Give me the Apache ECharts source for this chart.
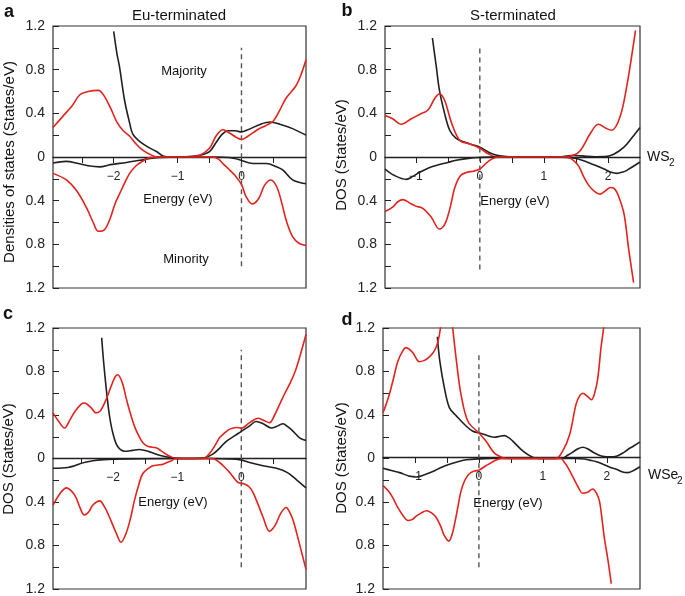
<!DOCTYPE html>
<html>
<head>
<meta charset="utf-8">
<script src="https://cdn.jsdelivr.net/npm/echarts@6/dist/echarts.min.js"></script>
<style>html,body{margin:0;padding:0;background:#fff}#c{width:685px;height:596px}</style>
</head>
<body>
<div id="c"></div>
<script>
// ---------- data (energy eV, DOS States/eV; minority stored as magnitudes) ----------
const panelTitles = ['Eu-terminated', 'S-terminated'];
const panelLetters = ['a', 'b', 'c', 'd'];
const xRanges = [[-2.95, 1.01], [-1.48, 2.5], [-2.94, 1.01], [-1.5, 2.52]];
const xTickValues = [[-2.5, -2, -1.5, -1, -0.5, 0, 0.5], [-1, -0.5, 0, 0.5, 1, 1.5, 2], [-2.5, -2, -1.5, -1, -0.5, 0, 0.5], [-1, -0.5, 0, 0.5, 1, 1.5, 2]];
const xLabelValues = [[-2, -1, 0], [-1, 0, 1, 2], [-2, -1, 0], [-1, 0, 1, 2]];
const fermiTop = [1.0, 1.0, 1.0, 0.96];
const fermiBottom = [-1.0, -1.03, -1.0, -1.0];

const aMajBlack = [[-2.0,1.15],[-1.95,0.95],[-1.91,0.83],[-1.83,0.52],[-1.75,0.31],[-1.70,0.21],[-1.59,0.14],[-1.46,0.09],[-1.33,0.05],[-1.23,0.01],[-1.1,0],[-0.8,0.003],[-0.66,0.015],[-0.5,0.05],[-0.4,0.13],[-0.3,0.21],[-0.2,0.24],[-0.1,0.24],[0,0.23],[0.1,0.25],[0.3,0.3],[0.45,0.32],[0.6,0.3],[0.8,0.26],[1.01,0.2]];
const aMajRed = [[-2.95,0.27],[-2.8,0.37],[-2.65,0.47],[-2.53,0.57],[-2.4,0.6],[-2.24,0.61],[-2.15,0.56],[-2.05,0.45],[-1.95,0.32],[-1.85,0.24],[-1.75,0.19],[-1.65,0.12],[-1.54,0.06],[-1.4,0.015],[-1.3,0],[-0.8,0.003],[-0.66,0.015],[-0.5,0.08],[-0.4,0.19],[-0.29,0.25],[-0.19,0.22],[-0.08,0.18],[0,0.16],[0.1,0.19],[0.25,0.25],[0.39,0.29],[0.5,0.33],[0.6,0.43],[0.7,0.54],[0.85,0.65],[0.93,0.75],[1.01,0.89]];
const aMinBlack = [[-2.95,0.055],[-2.75,0.04],[-2.55,0.06],[-2.4,0.08],[-2.22,0.09],[-2.05,0.07],[-1.8,0.05],[-1.59,0.03],[-1.4,0.012],[-1.28,0.005],[-1,0],[-0.4,0],[-0.2,0.005],[-0.03,0.025],[0.18,0.06],[0.39,0.06],[0.55,0.09],[0.65,0.12],[0.8,0.21],[1.01,0.245]];
const aMinRed = [[-2.95,0.15],[-2.74,0.21],[-2.58,0.31],[-2.43,0.46],[-2.32,0.6],[-2.24,0.68],[-2.15,0.67],[-2.06,0.57],[-1.98,0.43],[-1.91,0.34],[-1.83,0.24],[-1.75,0.15],[-1.65,0.08],[-1.55,0.04],[-1.44,0.006],[-1.3,0],[-0.45,0],[-0.36,0.02],[-0.29,0.06],[-0.2,0.11],[-0.1,0.17],[0,0.25],[0.07,0.36],[0.17,0.43],[0.27,0.38],[0.36,0.26],[0.46,0.21],[0.55,0.27],[0.63,0.42],[0.7,0.58],[0.8,0.73],[0.9,0.79],[1.01,0.81]];

const bMajBlack = [[-0.74,1.09],[-0.68,0.83],[-0.63,0.61],[-0.55,0.40],[-0.47,0.245],[-0.37,0.17],[-0.21,0.13],[-0.1,0.11],[0,0.09],[0.16,0.037],[0.31,0.01],[0.52,0],[1.2,0],[1.35,0.008],[1.46,0.015],[1.6,0.01],[1.8,0.002],[1.95,0.003],[2.09,0.025],[2.25,0.09],[2.38,0.18],[2.5,0.27]];
const bMajRed = [[-1.48,0.38],[-1.36,0.35],[-1.23,0.30],[-1.07,0.35],[-0.94,0.39],[-0.81,0.43],[-0.70,0.54],[-0.63,0.58],[-0.55,0.52],[-0.44,0.31],[-0.31,0.15],[-0.16,0.12],[0,0.08],[0.13,0.03],[0.26,0],[1.3,0],[1.46,0.015],[1.57,0.06],[1.72,0.21],[1.85,0.30],[1.98,0.26],[2.06,0.245],[2.19,0.37],[2.30,0.67],[2.40,1.04],[2.43,1.16]];
const bMinBlack = [[-1.48,0.11],[-1.33,0.17],[-1.15,0.205],[-1.05,0.18],[-0.94,0.14],[-0.8,0.1],[-0.68,0.077],[-0.5,0.05],[-0.37,0.03],[-0.15,0.01],[0,0.004],[0.2,0],[1.2,0],[1.41,0.006],[1.55,0.02],[1.67,0.046],[1.8,0.075],[1.93,0.107],[2.05,0.14],[2.14,0.15],[2.22,0.14],[2.3,0.12],[2.5,0.046]];
const bMinRed = [[-1.48,0.5],[-1.36,0.46],[-1.28,0.41],[-1.2,0.39],[-1.1,0.42],[-1.0,0.45],[-0.89,0.47],[-0.76,0.55],[-0.63,0.66],[-0.55,0.62],[-0.47,0.48],[-0.39,0.28],[-0.3,0.17],[-0.2,0.14],[-0.1,0.13],[0,0.11],[0.1,0.055],[0.2,0.015],[0.28,0],[1.35,0],[1.46,0.03],[1.55,0.09],[1.62,0.18],[1.7,0.26],[1.78,0.31],[1.88,0.34],[1.96,0.31],[2.04,0.28],[2.1,0.29],[2.16,0.35],[2.25,0.52],[2.32,0.83],[2.40,1.15]];

const cMajBlack = [[-2.18,1.11],[-2.15,0.89],[-2.11,0.65],[-2.06,0.40],[-2.0,0.22],[-1.93,0.11],[-1.82,0.067],[-1.7,0.075],[-1.59,0.083],[-1.43,0.061],[-1.28,0.03],[-1.07,0.006],[-0.9,0],[-0.6,0.005],[-0.44,0.043],[-0.33,0.1],[-0.23,0.16],[-0.1,0.21],[0,0.25],[0.13,0.30],[0.23,0.34],[0.34,0.32],[0.47,0.28],[0.57,0.3],[0.65,0.32],[0.73,0.29],[0.81,0.25],[0.91,0.19],[1.01,0.165]];
const cMajRed = [[-2.94,0.42],[-2.85,0.34],[-2.76,0.28],[-2.68,0.35],[-2.6,0.43],[-2.5,0.5],[-2.45,0.51],[-2.35,0.47],[-2.27,0.42],[-2.2,0.44],[-2.12,0.53],[-2.06,0.62],[-1.98,0.74],[-1.93,0.77],[-1.86,0.7],[-1.8,0.56],[-1.74,0.43],[-1.67,0.3],[-1.61,0.22],[-1.53,0.14],[-1.45,0.11],[-1.33,0.098],[-1.25,0.07],[-1.17,0.037],[-1.02,0],[-0.6,0],[-0.49,0.05],[-0.4,0.13],[-0.34,0.19],[-0.25,0.24],[-0.18,0.27],[-0.08,0.285],[0,0.28],[0.13,0.33],[0.26,0.37],[0.35,0.35],[0.44,0.33],[0.52,0.4],[0.6,0.5],[0.68,0.6],[0.76,0.69],[0.84,0.8],[0.91,0.93],[1.01,1.14]];
const cMinBlack = [[-2.94,0.09],[-2.8,0.088],[-2.71,0.083],[-2.62,0.07],[-2.53,0.05],[-2.42,0.033],[-2.32,0.02],[-2.15,0.01],[-2.0,0.006],[-1.5,0.002],[-0.5,0],[-0.2,0.004],[-0.03,0.01],[0.13,0.037],[0.34,0.067],[0.6,0.098],[0.72,0.13],[0.81,0.17],[0.91,0.22],[1.01,0.27]];
const cMinRed = [[-2.94,0.43],[-2.84,0.33],[-2.73,0.27],[-2.65,0.3],[-2.58,0.36],[-2.52,0.45],[-2.45,0.52],[-2.38,0.49],[-2.32,0.43],[-2.21,0.39],[-2.14,0.44],[-2.08,0.51],[-1.95,0.69],[-1.88,0.77],[-1.8,0.69],[-1.73,0.55],[-1.67,0.39],[-1.6,0.24],[-1.54,0.14],[-1.45,0.09],[-1.38,0.067],[-1.3,0.06],[-1.22,0.052],[-1.09,0.02],[-1.02,0],[-0.45,0],[-0.34,0.037],[-0.26,0.08],[-0.18,0.13],[-0.1,0.19],[-0.05,0.22],[0.05,0.235],[0.12,0.26],[0.18,0.31],[0.26,0.42],[0.34,0.54],[0.44,0.67],[0.5,0.64],[0.55,0.59],[0.62,0.5],[0.7,0.45],[0.76,0.5],[0.81,0.57],[0.91,0.79],[1.01,1.02]];

const dMajBlack = [[-0.65,1.12],[-0.61,0.89],[-0.54,0.65],[-0.46,0.465],[-0.35,0.39],[-0.22,0.31],[-0.094,0.25],[0.01,0.235],[0.14,0.21],[0.245,0.196],[0.33,0.205],[0.40,0.21],[0.47,0.19],[0.53,0.16],[0.69,0.067],[0.84,0.012],[0.95,0],[1.3,0.003],[1.4,0.035],[1.47,0.06],[1.55,0.09],[1.625,0.104],[1.7,0.09],[1.78,0.06],[1.88,0.03],[1.96,0.018],[2.05,0.015],[2.15,0.021],[2.25,0.05],[2.33,0.083],[2.42,0.115],[2.52,0.153]];
const dMajRed = [[-1.5,0.42],[-1.45,0.5],[-1.40,0.59],[-1.33,0.75],[-1.27,0.89],[-1.2,0.98],[-1.14,1.02],[-1.08,1.0],[-1.03,0.97],[-0.93,0.89],[-0.86,0.9],[-0.80,0.92],[-0.72,0.97],[-0.67,1.02],[-0.62,1.13],[-0.58,1.3],[-0.5,1.6],[-0.43,1.3],[-0.41,1.2],[-0.35,0.89],[-0.28,0.59],[-0.17,0.34],[0,0.235],[0.11,0.16],[0.24,0.052],[0.375,0.006],[0.45,0],[1.2,0],[1.31,0.067],[1.42,0.22],[1.52,0.50],[1.58,0.58],[1.625,0.60],[1.70,0.57],[1.76,0.54],[1.81,0.6],[1.86,0.74],[1.91,1.02],[1.95,1.2],[2.0,1.6]];
const dMinBlack = [[-1.5,0.09],[-1.37,0.11],[-1.24,0.13],[-1.1,0.16],[-0.98,0.17],[-0.85,0.15],[-0.72,0.12],[-0.6,0.085],[-0.46,0.052],[-0.33,0.03],[-0.2,0.012],[0,0.003],[0.2,0],[1.5,0],[1.65,0.005],[1.73,0.015],[1.84,0.03],[1.94,0.052],[2.05,0.08],[2.15,0.098],[2.25,0.125],[2.33,0.13],[2.42,0.11],[2.52,0.076]];
const dMinRed = [[-1.5,0.25],[-1.40,0.31],[-1.33,0.38],[-1.27,0.45],[-1.18,0.53],[-1.11,0.57],[-1.04,0.56],[-0.98,0.53],[-0.9,0.5],[-0.82,0.48],[-0.74,0.5],[-0.67,0.54],[-0.6,0.62],[-0.54,0.71],[-0.47,0.76],[-0.42,0.7],[-0.38,0.6],[-0.33,0.45],[-0.28,0.3],[-0.22,0.2],[-0.15,0.14],[-0.07,0.115],[0,0.107],[0.11,0.067],[0.245,0.021],[0.35,0],[1.28,0],[1.34,0.037],[1.4,0.09],[1.47,0.17],[1.55,0.26],[1.625,0.32],[1.7,0.31],[1.78,0.28],[1.84,0.32],[1.885,0.39],[1.92,0.53],[1.96,0.72],[2.02,0.94],[2.07,1.15]];

const panels = [
  {majBlack: aMajBlack, majRed: aMajRed, minBlack: aMinBlack, minRed: aMinRed},
  {majBlack: bMajBlack, majRed: bMajRed, minBlack: bMinBlack, minRed: bMinRed},
  {majBlack: cMajBlack, majRed: cMajRed, minBlack: cMinBlack, minRed: cMinRed},
  {majBlack: dMajBlack, majRed: dMajRed, minBlack: dMinBlack, minRed: dMinRed}
];

// ---------- layout / styles ----------
const FONT = 'Liberation Sans, Arial, Helvetica, sans-serif';
const RED = '#e3231c', BLACK = '#231f20';
const grids = [
  {left: 53, top: 26, width: 253, height: 262},
  {left: 385, top: 26, width: 255, height: 262},
  {left: 53, top: 328, width: 253, height: 262},
  {left: 383, top: 328, width: 257, height: 264}
];

const chart = echarts.init(document.getElementById('c'), null, {renderer: 'canvas'});
const negate = arr => arr.map(p => [p[0], -p[1]]);
const fmtX = v => (v < 0 ? '\u2212' + (-v) : String(v));
const fmtY = v => {
  const r = Math.round(v * 10) / 10;
  if (Math.abs(Math.round(r * 10)) % 4 !== 0) return '';
  return r === 0 ? '0' : Math.abs(r).toFixed(1);
};

const xAxis = [], yAxis = [], series = [];
grids.forEach((g, i) => {
  xAxis.push({
    type: 'value', gridIndex: i, min: xRanges[i][0], max: xRanges[i][1],
    position: 'bottom', offset: -g.height / 2,
    axisLine: {show: true, onZero: false, lineStyle: {color: BLACK, width: 1.4}},
    axisTick: {show: true, length: 6, lineStyle: {color: BLACK, width: 1}, customValues: xTickValues[i]},
    axisLabel: {show: true, fontSize: 12, color: '#222', margin: 14, fontFamily: FONT, formatter: fmtX, customValues: xLabelValues[i]},
    splitLine: {show: false}
  });
  yAxis.push({
    type: 'value', gridIndex: i, min: -1.2, max: 1.2, interval: 0.2,
    position: 'left',
    axisLine: {show: false, onZero: false},
    axisTick: {show: true, inside: true, length: 6, lineStyle: {color: BLACK, width: 1}},
    axisLabel: {show: true, fontSize: 14, color: '#222', margin: 8, fontFamily: FONT, formatter: fmtY},
    splitLine: {show: false}
  });
  const p = panels[i];
  const mk = (data, color) => ({
    type: 'line', xAxisIndex: i, yAxisIndex: i, data: data, smooth: 0.35, showSymbol: false,
    lineStyle: {color: color, width: 1.6}, clip: true, silent: true, z: 3
  });
  series.push(mk(p.majBlack, BLACK));
  series.push(mk(p.majRed, RED));
  series.push(mk(negate(p.minBlack), BLACK));
  series.push(mk(negate(p.minRed), RED));
  series.push({
    type: 'line', xAxisIndex: i, yAxisIndex: i, data: [[0, fermiBottom[i]], [0, fermiTop[i]]],
    showSymbol: false, silent: true, z: 2,
    lineStyle: {color: '#555', width: 1.4, type: [5, 4]}
  });
});

const txt = (x, y, text, size, opts) => Object.assign({
  type: 'text', x: x, y: y, silent: true,
  style: Object.assign({text: text, fontSize: size, fontFamily: FONT, fill: '#111', align: 'center', verticalAlign: 'middle'}, (opts && opts.style) || {})
}, opts && opts.rotation !== undefined ? {rotation: opts.rotation} : {});

const graphic = [
  txt(9, 12, panelLetters[0], 18, {style: {fontWeight: 'bold'}}),
  txt(347, 11, panelLetters[1], 18, {style: {fontWeight: 'bold'}}),
  txt(8, 314, panelLetters[2], 18, {style: {fontWeight: 'bold'}}),
  txt(347, 320, panelLetters[3], 18, {style: {fontWeight: 'bold'}}),
  txt(179, 16, panelTitles[0], 15),
  txt(513, 16, panelTitles[1], 15),
  txt(10, 162, 'Densities of states (States/eV)', 15, {rotation: Math.PI / 2}),
  txt(342, 155, 'DOS (States/eV)', 15, {rotation: Math.PI / 2}),
  txt(9, 459, 'DOS (States/eV)', 15, {rotation: Math.PI / 2}),
  txt(342, 458, 'DOS (States/eV)', 15, {rotation: Math.PI / 2}),
  txt(178, 199, 'Energy (eV)', 13),
  txt(515, 201, 'Energy (eV)', 13),
  txt(173, 502, 'Energy (eV)', 13),
  txt(508, 503, 'Energy (eV)', 13),
  txt(184, 71, 'Majority', 13),
  txt(186, 259, 'Minority', 13),
  txt(647, 157, 'WS', 14, {style: {align: 'left'}}),
  txt(669, 163, '2', 10, {style: {align: 'left'}}),
  txt(648, 475, 'WSe', 14, {style: {align: 'left'}}),
  txt(677, 481, '2', 10, {style: {align: 'left'}})
];

chart.setOption({
  animation: false,
  backgroundColor: '#fff',
  textStyle: {fontFamily: FONT},
  grid: grids.map(g => Object.assign({show: true, borderColor: '#333', borderWidth: 1.2, backgroundColor: 'transparent', containLabel: false}, g)),
  xAxis: xAxis,
  yAxis: yAxis,
  series: series,
  graphic: graphic
});
</script>
</body>
</html>
